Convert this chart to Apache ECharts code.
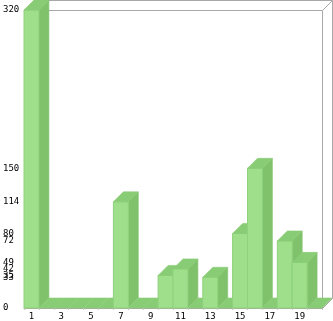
<!DOCTYPE html>
<html><head><meta charset="utf-8">
<script src="https://cdn.jsdelivr.net/npm/echarts@6/dist/echarts.min.js"></script>
<style>html,body{margin:0;padding:0;background:#fff}#c{width:333px;height:321px}</style>
</head><body><div id="c"></div>
<script>
var categories = ['1','2','3','4','5','6','7','8','9','10','11','12','13','14','15','16','17','18','19','20'];
var values = [320,0,0,0,0,0,114,0,0,35,42,0,33,0,80,150,0,72,49,0];
var yTickLabels = [0,33,35,42,49,72,80,114,150,320];

var chart = echarts.init(document.getElementById('c'), null, {renderer:'canvas'});
var D = 10;
var frameColor = '#a8a8a8';
var option = {
  animation:false,
  grid:{left:21,right:11,top:10,bottom:12},
  xAxis:{type:'category',data:categories,
    axisLine:{show:true,lineStyle:{color:frameColor,width:1}},
    axisTick:{show:true,interval:0,length:2,lineStyle:{color:'#c8c8c8'}},
    axisLabel:{interval:1,color:'#000',fontFamily:'DejaVu Sans Mono',fontSize:9,margin:4}},
  yAxis:{type:'value',min:0,max:320,
    splitLine:{show:false},axisTick:{show:false},
    axisLine:{show:true,lineStyle:{color:frameColor,width:1}},
    axisLabel:{customValues:yTickLabels,align:'left',margin:21,color:'#000',
      fontFamily:'DejaVu Sans Mono',fontSize:9,padding:[0,0,6,0]}},
  series:[
    {type:'custom',z:1,data:[[0,0]],silent:true,
      renderItem:function(params,api){
        var cs=params.coordSys;
        var x=cs.x,y=cs.y,w=cs.width,h=cs.height;
        var ls={stroke:frameColor,lineWidth:1,fill:null};
        var lines=[
          [[x,y],[x+w,y]],
          [[x+w,y],[x+w,y+h]],
          [[x+w,y],[x+w+D,y-D]],
          [[x+w,y+h],[x+w+D,y+h-D]],
          [[x+w+D,y-D],[x+w+D,y+h-D]],
          [[x+D,y-D],[x+w+D,y-D]]
        ];
        return {type:'group',children:lines.map(function(l){
          return {type:'line',shape:{x1:Math.round(l[0][0])+0.5,y1:Math.round(l[0][1])+0.5,x2:Math.round(l[1][0])+0.5,y2:Math.round(l[1][1])+0.5},style:ls};
        })};
      }},
    {type:'custom',z:2,silent:true,
      data:categories.map(function(c,i){return [i,values[i]];}),
      encode:{x:0,y:1},
      renderItem:function(params,api){
        var idx=api.value(0),val=api.value(1);
        var top=api.coord([idx,val]),base=api.coord([idx,0]);
        var w=api.size([1,0])[0];
        var x0=top[0]-w/2,x1=top[0]+w/2,yt=top[1],yb=base[1];
        var ch=[];
        if(yb-yt>0){
          ch.push({type:'polygon',shape:{points:[[x1,yb],[x1+D,yb-D],[x1+D,yt-D],[x1,yt]]},style:{fill:'#80c26c',stroke:'#80c26c',lineWidth:0.6}});
          ch.push({type:'rect',shape:{x:x0,y:yt,width:w,height:yb-yt},style:{fill:'#9fde8a',stroke:'#8fd27c',lineWidth:1}});
        }
        ch.push({type:'polygon',shape:{points:[[x0,yt],[x0+D,yt-D],[x1+D,yt-D],[x1,yt]]},style:{fill:'#89cc76',stroke:'#89cc76',lineWidth:0.6}});
        return {type:'group',children:ch};
      }}
  ]
};
chart.setOption(option);
</script></body></html>
